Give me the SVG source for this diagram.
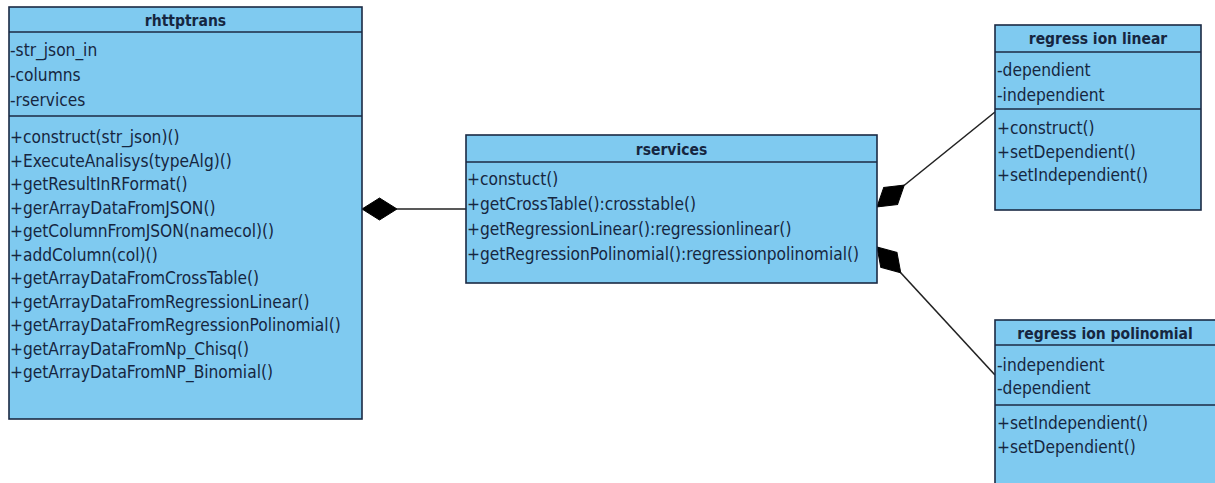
<svg xmlns="http://www.w3.org/2000/svg" width="1215" height="483" viewBox="0 0 1215 483">
<defs>
<style>
.box{fill:#7fcaf0;stroke:#1b2a44;stroke-width:1.6}
.sep{stroke:#1b2a44;stroke-width:1.6}
.t{font-family:"DejaVu Sans Condensed","DejaVu Sans",sans-serif;font-stretch:condensed;font-size:17.2px;fill:#162640}
.h{font-family:"DejaVu Sans Condensed","DejaVu Sans",sans-serif;font-stretch:condensed;font-size:15.5px;font-weight:bold;fill:#162640;text-anchor:middle}
.ln{stroke:#222;stroke-width:1.6;fill:none}
.dm{fill:#000;stroke:#000;stroke-width:1}
</style>
<polygon id="diamond" points="0,0 17.5,-11 35,0 17.5,11"/>
</defs>
<rect width="1215" height="483" fill="#fff"/>

<g id="connectors">
<use href="#diamond" class="dm" transform="translate(362,209)"/>
<line class="ln" x1="397" y1="209" x2="466" y2="209"/>
<use href="#diamond" class="dm" transform="translate(877,207) rotate(-38.8)"/>
<line class="ln" x1="904" y1="185.5" x2="995" y2="112"/>
<use href="#diamond" class="dm" transform="translate(877,247) rotate(47.3)"/>
<line class="ln" x1="900.5" y1="272.5" x2="995" y2="375"/>
</g>

<g id="rhttptrans">
<rect class="box" x="9" y="7" width="353" height="412"/>
<line class="sep" x1="9" y1="32" x2="362" y2="32"/>
<line class="sep" x1="9" y1="116" x2="362" y2="116"/>
<text class="h" x="185.5" y="26">rhttptrans</text>
<text class="t" x="10" y="56">-str_json_in</text>
<text class="t" x="10" y="81">-columns</text>
<text class="t" x="10" y="106">-rservices</text>
<text class="t" x="10" y="143">+construct(str_json)()</text>
<text class="t" x="10" y="166.5">+ExecuteAnalisys(typeAlg)()</text>
<text class="t" x="10" y="190">+getResultInRFormat()</text>
<text class="t" x="10" y="213.5">+gerArrayDataFromJSON()</text>
<text class="t" x="10" y="237">+getColumnFromJSON(namecol)()</text>
<text class="t" x="10" y="260.5">+addColumn(col)()</text>
<text class="t" x="10" y="284">+getArrayDataFromCrossTable()</text>
<text class="t" x="10" y="307.5">+getArrayDataFromRegressionLinear()</text>
<text class="t" x="10" y="331">+getArrayDataFromRegressionPolinomial()</text>
<text class="t" x="10" y="354.5">+getArrayDataFromNp_Chisq()</text>
<text class="t" x="10" y="378">+getArrayDataFromNP_Binomial()</text>
</g>

<g id="rservices">
<rect class="box" x="466" y="135" width="411" height="148"/>
<line class="sep" x1="466" y1="162" x2="877" y2="162"/>
<text class="h" x="671.5" y="155">rservices</text>
<text class="t" x="467" y="185">+constuct()</text>
<text class="t" x="467" y="210">+getCrossTable():crosstable()</text>
<text class="t" x="467" y="235">+getRegressionLinear():regressionlinear()</text>
<text class="t" x="467" y="260">+getRegressionPolinomial():regressionpolinomial()</text>
</g>

<g id="regression-linear">
<rect class="box" x="995" y="25" width="206" height="185"/>
<line class="sep" x1="995" y1="52" x2="1201" y2="52"/>
<line class="sep" x1="995" y1="109" x2="1201" y2="109"/>
<text class="h" x="1098" y="44">regress ion linear</text>
<text class="t" x="997" y="76">-dependient</text>
<text class="t" x="997" y="101">-independient</text>
<text class="t" x="997" y="134">+construct()</text>
<text class="t" x="997" y="158">+setDependient()</text>
<text class="t" x="997" y="181">+setIndependient()</text>
</g>

<g id="regression-polinomial">
<rect class="box" x="995" y="320" width="230" height="180"/>
<line class="sep" x1="995" y1="345" x2="1215" y2="345"/>
<line class="sep" x1="995" y1="405" x2="1215" y2="405"/>
<text class="h" x="1105" y="339">regress ion polinomial</text>
<text class="t" x="997" y="371">-independient</text>
<text class="t" x="997" y="394">-dependient</text>
<text class="t" x="997" y="429">+setIndependient()</text>
<text class="t" x="997" y="453">+setDependient()</text>
</g>
</svg>
